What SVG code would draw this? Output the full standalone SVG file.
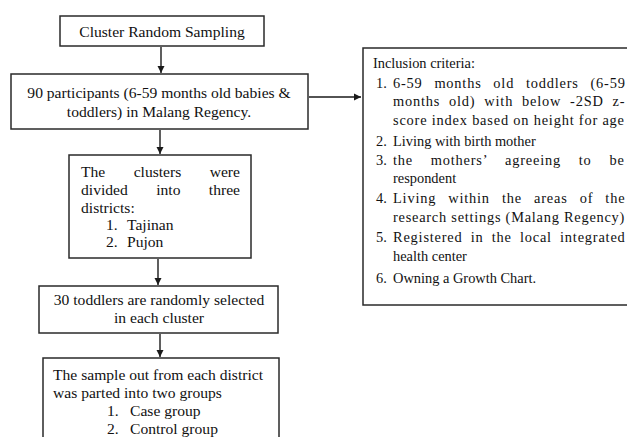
<svg xmlns="http://www.w3.org/2000/svg" width="627" height="437" viewBox="0 0 627 437">
<defs>
<style>
.box{fill:#fff;stroke:#2a2a2a;stroke-width:1.5}
.t{font-family:"Liberation Serif","Times New Roman",serif;font-size:15.6px;fill:#111}
.s{font-family:"Liberation Serif","Times New Roman",serif;font-size:14.4px;fill:#111}
.j{letter-spacing:0.8px}
.c{text-anchor:middle}
.ln{stroke:#1a1a1a;stroke-width:1.4;fill:none}
</style>
<marker id="ah" viewBox="0 0 10 10" refX="10" refY="5" markerWidth="7" markerHeight="8" markerUnits="userSpaceOnUse" orient="auto">
<path d="M0,0 L10,5 L0,10 z" fill="#1a1a1a"/>
</marker>
</defs>
<rect width="627" height="437" fill="#fff"/>
<g id="connectors">
<line class="ln" x1="161" y1="47" x2="161" y2="73" marker-end="url(#ah)"/>
<line class="ln" x1="160" y1="130" x2="160" y2="154" marker-end="url(#ah)"/>
<line class="ln" x1="158" y1="259" x2="158" y2="285" marker-end="url(#ah)"/>
<line class="ln" x1="160" y1="334" x2="160" y2="357" marker-end="url(#ah)"/>
<line class="ln" x1="309" y1="97" x2="361" y2="97" marker-end="url(#ah)"/>
</g>
<g id="n1">
<rect class="box" x="60" y="16" width="204" height="30"/>
<text class="t c" x="162" y="37">Cluster Random Sampling</text>
</g>
<g id="n2">
<rect class="box" x="11" y="74" width="297" height="55"/>
<text class="t c" x="159" y="98">90 participants (6-59 months old babies &amp;</text>
<text class="t c" x="159" y="117">toddlers) in Malang Regency.</text>
</g>
<g id="n3">
<rect class="box" x="69" y="155" width="182" height="103"/>
<text class="t" x="81" y="177" word-spacing="24.5">The clusters were</text>
<text class="t" x="81" y="195" word-spacing="24.5">divided into three</text>
<text class="t" x="81" y="213">districts:</text>
<text class="t" x="106" y="230">1.</text><text class="t" x="127" y="230">Tajinan</text>
<text class="t" x="106" y="247">2.</text><text class="t" x="127" y="247">Pujon</text>
</g>
<g id="n4">
<rect class="box" x="39" y="286" width="239" height="47"/>
<text class="t c" x="159" y="305">30 toddlers are randomly selected</text>
<text class="t c" x="159" y="323">in each cluster</text>
</g>
<g id="n5">
<rect class="box" x="43" y="358" width="236" height="90"/>
<text class="t" x="53" y="380">The sample out from each district</text>
<text class="t" x="53" y="398">was parted into two groups</text>
<text class="t" x="107" y="416">1.</text><text class="t" x="130" y="416">Case group</text>
<text class="t" x="107" y="434">2.</text><text class="t" x="130" y="434">Control group</text>
</g>
<g id="n6">
<rect class="box" x="363" y="48" width="280" height="257"/>
<text class="s" x="373" y="68">Inclusion criteria:</text>
<text class="s" x="376" y="88">1.</text>
<text class="s j" x="393" y="88" word-spacing="7.4">6-59 months old toddlers (6-59</text>
<text class="s j" x="393" y="106" word-spacing="4.5">months old) with below -2SD z-</text>
<text class="s j" x="393" y="125">score index based on height for age</text>
<text class="s" x="376" y="146">2.</text>
<text class="s" x="393" y="146">Living with birth mother</text>
<text class="s" x="376" y="165">3.</text>
<text class="s j" x="393" y="165" word-spacing="13.4">the mothers’ agreeing to be</text>
<text class="s" x="393" y="183">respondent</text>
<text class="s" x="376" y="203">4.</text>
<text class="s j" x="393" y="203" word-spacing="7.7">Living within the areas of the</text>
<text class="s" x="393" y="222" letter-spacing="0.75">research settings (Malang Regency)</text>
<text class="s" x="376" y="242">5.</text>
<text class="s j" x="393" y="242" word-spacing="3.8">Registered in the local integrated</text>
<text class="s" x="393" y="261">health center</text>
<text class="s" x="376" y="283">6.</text>
<text class="s" x="393" y="283">Owning a Growth Chart.</text>
</g>
</svg>
